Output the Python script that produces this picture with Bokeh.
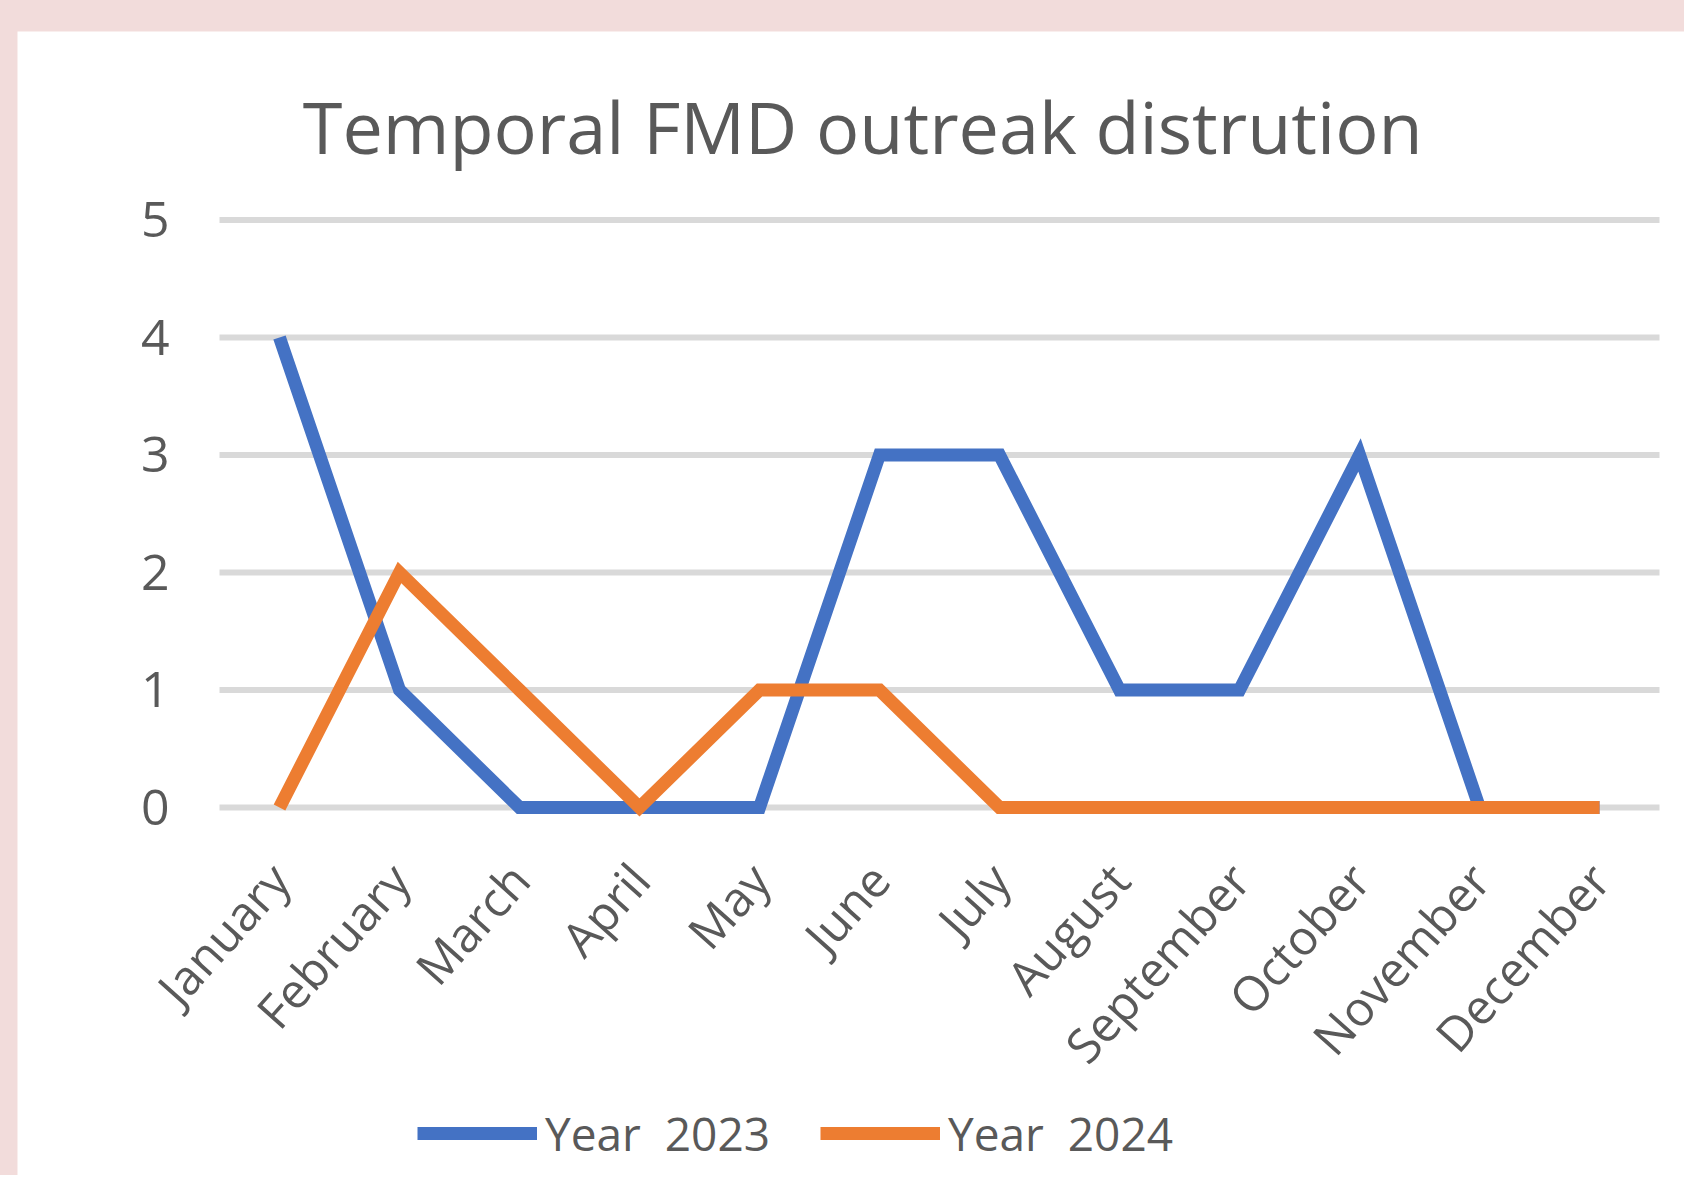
from bokeh.plotting import figure
from bokeh.models import (Range1d, FixedTicker, Legend, LegendItem,
                          Label, ColumnDataSource)
from bokeh.layouts import column
from bokeh.embed import file_html
from bokeh.resources import INLINE

# ---- data ----
months = ["January", "February", "March", "April", "May", "June", "July",
          "August", "September", "October", "November", "December"]
year_2023 = [4, 1, 0, 0, 0, 3, 3, 1, 1, 3, 0, 0]
year_2024 = [0, 2, 1, 0, 1, 1, 0, 0, 0, 0, 0, 0]
y_ticks = [0, 1, 2, 3, 4, 5]
series_names = ["Year  2023", "Year  2024"]
title_text = "Temporal FMD outreak distrution"

FONT = "Open Sans"
TEXT_COLOR = "#595959"
BLUE = "#4472C4"
ORANGE = "#ED7D31"
GRID = "#D9D9D9"

month_pos = list(range(len(months)))          # category slots
src = ColumnDataSource(dict(x=month_pos, y2023=year_2023, y2024=year_2024))
grid_src = ColumnDataSource(dict(y=y_ticks))

# the frame covers the whole white panel (title + legend + labels inside it);
# category slots are 120 px wide, values 0..5 are 117.5 px apart
p = figure(x_range=Range1d(-2.1833, 11.7083),
           y_range=Range1d(-3.132, 6.604),
           width=1667, height=1144,
           output_backend="svg", toolbar_location=None,
           title_location=None,
           min_border_left=0, min_border_right=0,
           min_border_top=0, min_border_bottom=0,
           margin=(31, 0, 0, 17))

p.background_fill_color = "white"
p.border_fill_color = "white"
p.outline_line_color = None
p.xgrid.grid_line_color = None
p.ygrid.grid_line_color = None

# horizontal gridlines across the plot area (first to last category slot)
p.segment(x0=-0.5, x1=len(months) - 0.5, y0="y", y1="y", source=grid_src,
          line_color=GRID, line_width=6)

r1 = p.line(x="x", y="y2023", source=src, line_color=BLUE, line_width=13,
            line_join="miter")
r2 = p.line(x="x", y="y2024", source=src, line_color=ORANGE, line_width=13,
            line_join="miter")

# title
p.add_layout(Label(x=4.86, y=5.80, text=title_text,
                   text_align="center", text_baseline="alphabetic",
                   text_font=FONT, text_font_size="72px",
                   text_color=TEXT_COLOR))

# value axis
p.yaxis.fixed_location = -0.5
p.yaxis.ticker = FixedTicker(ticks=y_ticks)
p.yaxis.axis_line_color = None
p.yaxis.major_tick_line_color = None
p.yaxis.minor_tick_line_color = None
p.yaxis.major_tick_out = 0
p.yaxis.major_tick_in = 0
p.yaxis.major_label_standoff = 50
p.yaxis.major_label_text_font = FONT
p.yaxis.major_label_text_font_size = "50px"
p.yaxis.major_label_text_color = TEXT_COLOR

# category axis
p.xaxis.fixed_location = -0.06
p.xaxis.ticker = FixedTicker(ticks=month_pos)
p.xaxis.major_label_overrides = dict(zip(month_pos, months))
p.xaxis.axis_line_color = None
p.xaxis.major_tick_line_color = None
p.xaxis.minor_tick_line_color = None
p.xaxis.major_tick_out = 0
p.xaxis.major_tick_in = 0
p.xaxis.major_label_standoff = 56
p.xaxis.major_label_orientation = 0.84
p.xaxis.major_label_text_font = FONT
p.xaxis.major_label_text_font_size = "48px"
p.xaxis.major_label_text_color = TEXT_COLOR

legend = Legend(items=[LegendItem(label=series_names[0], renderers=[r1]),
                       LegendItem(label=series_names[1], renderers=[r2])],
                orientation="horizontal", location=(400, 11),
                glyph_width=120, glyph_height=50, label_height=50,
                label_standoff=8, spacing=50, padding=0, margin=0,
                border_line_color=None, background_fill_alpha=0,
                label_text_font=FONT, label_text_font_size="46px",
                label_text_color=TEXT_COLOR)
p.add_layout(legend, "center")

layout = column(p, styles={"background-color": "#f2dcdb"})

open("out.html", "w").write(file_html(layout, INLINE))
